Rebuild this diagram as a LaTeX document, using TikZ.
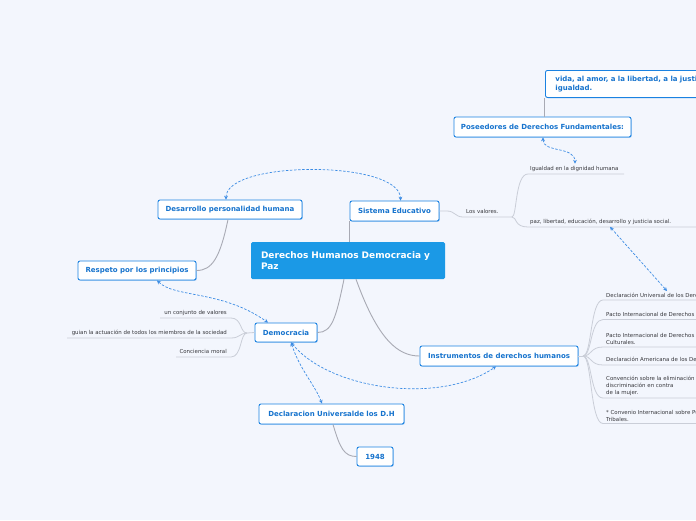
\documentclass[tikz,border=0pt]{standalone}
\usepackage{fontspec}
\setmainfont{DejaVu Sans}
\usetikzlibrary{shadows,arrows.meta,calc}
\definecolor{bg}{RGB}{243,246,253}
\definecolor{topicborder}{RGB}{27,130,225}
\definecolor{topictext}{RGB}{22,115,205}
\definecolor{centralfill}{RGB}{27,153,230}
\definecolor{conn}{RGB}{168,170,180}
\definecolor{thin}{RGB}{202,206,216}
\definecolor{rel}{RGB}{60,140,228}
\definecolor{labeltext}{RGB}{55,55,60}
\tikzset{
  topic/.style={draw=topicborder, line width=0.9pt, fill=white, rounded corners=2pt,
    font=\bfseries\fontsize{7}{8.5}\selectfont, text=topictext, inner sep=0pt,
    drop shadow={shadow xshift=0.8pt, shadow yshift=-0.8pt, opacity=0.35, fill=topicborder}},
  central/.style={fill=centralfill, rounded corners=1.5pt, text=white,
    font=\bfseries\fontsize{9}{11}\selectfont, align=left, text width=174pt,
    inner xsep=10pt, inner ysep=0pt, minimum height=37pt},
  lbl/.style={font=\fontsize{5.45}{7}\selectfont, text=labeltext, inner sep=0pt, align=left},
  mainconn/.style={draw=conn, line width=0.9pt},
  thinconn/.style={draw=thin, line width=0.8pt},
  relation/.style={draw=rel, line width=0.7pt, dash pattern=on 2.5pt off 1.6pt,
    {Stealth[length=3.8pt,width=3.8pt]}-{Stealth[length=3.8pt,width=3.8pt]}},
}
\begin{document}
\begin{tikzpicture}[x=1pt,y=-1pt]
\useasboundingbox (0,0) rectangle (696,520);
\fill[bg] (0,0) rectangle (696,520);

% ---- topic nodes ----
\node[central] (cen) at (348,260.5) {Derechos Humanos Democracia y\\Paz};
\node[topic, minimum width=89pt, minimum height=20pt] (sis) at (394.5,211) {Sistema Educativo};
\node[topic, minimum width=144pt, minimum height=19pt] (des) at (230,209.5) {Desarrollo personalidad humana};
\node[topic, minimum width=118pt, minimum height=19pt] (res) at (137,270.5) {Respeto por los principios};
\node[topic, minimum width=62pt, minimum height=19pt] (dem) at (286,332.5) {Democracia};
\node[topic, minimum width=145pt, minimum height=20pt] (dec) at (331.5,414) {Declaracion Universalde los D.H};
\node[topic, minimum width=36pt, minimum height=19pt] (yr) at (375,456.5) {1948};
\node[topic, minimum width=158pt, minimum height=20pt] (ins) at (499,356) {Instrumentos de derechos humanos};
\node[topic, minimum width=177pt, minimum height=20pt] (pos) at (542.5,127) {Poseedores de Derechos Fundamentales:};
\node[topic, anchor=north west, minimum width=230pt, minimum height=27pt, align=left,
      text width=210pt, inner xsep=10pt] (vida) at (545,70)
      {vida, al amor, a la libertad, a la justicia y a la\\igualdad.};

% ---- main connectors ----
\draw[mainconn] (cen.north -| 349,0) -- (sis.south -| 349,0);
\draw[mainconn] ($(cen.south)+(-4,0)$) .. controls (336,318) and (332,332.5) .. (dem.east);
\draw[mainconn] ($(cen.south)+(8,0)$) .. controls (378,340) and (398,356) .. (ins.west);
\draw[mainconn] ($(des.south)+(-2,0)$) .. controls (220,258) and (212,270.5) .. (res.east);
\draw[mainconn] ($(dec.south)+(1.5,0)$) .. controls (340,448) and (344,456.5) .. (yr.west);
\draw[mainconn] (pos.north -| 544,0) -- (vida.south west -| 544,0);

% ---- Los valores branch ----
\node[lbl, anchor=base west] (val) at (466,213) {Los valores.};
\node[lbl, anchor=base west] (igu) at (530,170) {Igualdad en la dignidad humana};
\node[lbl, anchor=base west] (paz) at (530,223) {paz, libertad, educación, desarrollo y justicia social.};
\coordinate (valA) at (463,217);
\coordinate (valB) at (512,217);
\draw[thinconn] (sis.east) -- (447,211) .. controls (455,211) and (455,217) .. (valA) -- (valB);
\draw[thinconn] (valB) .. controls (517,217) and (515,174) .. (528,174) -- (624,174);
\draw[thinconn] (valB) .. controls (517,217) and (514,227) .. (528,227) -- (700,227);

% ---- Instrumentos branch ----
\coordinate (insF) at (583,356);
\draw[thinconn] (ins.east) -- (insF);
\foreach \y in {300,319.5,347,365,398,423.5}{
  \draw[thinconn] (insF) .. controls (592,356) and (590,\y) .. (603,\y) -- (700,\y);
}
\node[lbl, anchor=south west] (i1) at (606,298) {Declaración Universal de los Derechos Humanos};
\node[lbl, anchor=south west] (i2) at (606,317.5) {Pacto Internacional de Derechos Civiles y Políticos};
\node[lbl, anchor=south west] (i3) at (606,345) {Pacto Internacional de Derechos Económicos, Sociales y\\Culturales.};
\node[lbl, anchor=south west] (i4) at (606,363) {Declaración Americana de los Derechos y Deberes del Hombre};
\node[lbl, anchor=south west] (i5) at (606,396) {Convención sobre la eliminación de todas las formas de\\discriminación en contra\\de la mujer.};
\node[lbl, anchor=south west] (i6) at (606,421.5) {* Convenio Internacional sobre Pueblos Indígenas y\\Tribales.};

% ---- Democracia branch ----
\coordinate (demF) at (247,333);
\draw[thinconn] (dem.west) -- (demF);
\draw[thinconn] (demF) .. controls (240,333) and (242,318) .. (231,318) -- (160,318);
\draw[thinconn] (demF) .. controls (240,333) and (240,338) .. (231,338) -- (67,338);
\draw[thinconn] (demF) .. controls (240,333) and (242,357) .. (231,357) -- (176,357);
\node[lbl, anchor=base east] (d1) at (227,314.5) {un conjunto de valores};
\node[lbl, anchor=base east] (d2) at (227,334.5) {guian la actuación de todos los miembros de la sociedad};
\node[lbl, anchor=base east] (d3) at (227,353.5) {Conciencia moral};

% ---- relationships ----
\draw[relation] ($(des.north)+(-4,0)$) .. controls (226,160) and (400,160) .. ($(sis.north)+(6,0)$);
\draw[relation] ($(pos.south)+(0.5,0)$) .. controls (543,153) and (575,146) .. ($(igu.north west)+(45,-2)$);
\draw[relation] ($(paz.south west)+(80,2.5)$) -- (667,291);
\draw[relation] ($(res.south)+(20,0)$) .. controls (175,298) and (222,290) .. ($(dem.north)+(-18,0)$);
\draw[relation] ($(dem.south)+(5,0)$) .. controls (300,370) and (315,385) .. ($(dec.north)+(-9.5,0)$);
\draw[relation] ($(dem.south)+(5,0)$) .. controls (330,390) and (440,405) .. ($(ins.south)+(-3,0)$);
\end{tikzpicture}
\end{document}
